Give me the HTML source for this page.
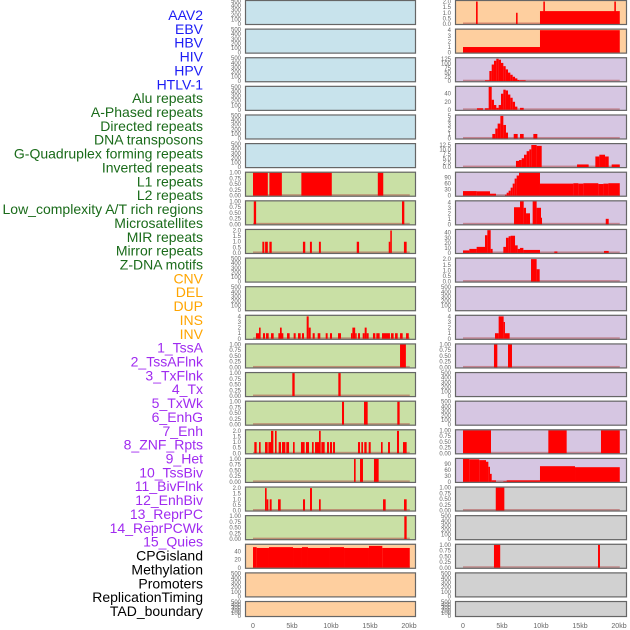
<!DOCTYPE html>
<html><head><meta charset="utf-8"><style>
html,body{margin:0;padding:0;background:#fff;width:630px;height:630px;overflow:hidden}
svg{display:block}
.lab{font-family:"Liberation Sans",sans-serif;font-size:14px;text-anchor:end}
.tk{font-family:"Liberation Sans",sans-serif;font-size:6px;fill:#666;text-anchor:end}
.xt{font-family:"Liberation Sans",sans-serif;font-size:7px;fill:#666;text-anchor:middle}
</style></head><body>
<svg id="chart" width="630" height="630" viewBox="0 0 630 630" xmlns="http://www.w3.org/2000/svg"></svg>
<script>
// ---- Labels ----
const labelsBlue=["AAV2","EBV","HBV","HIV","HPV","HTLV-1"];
const labelsGreen=["Alu repeats","A-Phased repeats","Directed repeats","DNA transposons","G-Quadruplex forming repeats","Inverted repeats","L1 repeats","L2 repeats","Low_complexity A/T rich regions","Microsatellites","MIR repeats","Mirror repeats","Z-DNA motifs"];
const labelsOrange=["CNV","DEL","DUP","INS","INV"];
const labelsPurple=["1_TssA","2_TssAFlnk","3_TxFlnk","4_Tx","5_TxWk","6_EnhG","7_Enh","8_ZNF_Rpts","9_Het","10_TssBiv","11_BivFlnk","12_EnhBiv","13_ReprPC","14_ReprPCWk","15_Quies"];
const labelsBlack=["CPGisland","Methylation","Promoters","ReplicationTiming","TAD_boundary"];
// ---- Ticks ----
const T500=["0","100","200","300","400","500"];
const T1=["0.00","0.25","0.50","0.75","1.00"];
const T2=["0.0","0.5","1.0","1.5","2.0"];
const T4=["0","1","2","3","4"];
const T5=["0","1","2","3","4","5"];
const T125=["0","25","50","75","100","125"];
const T40=["0","20","40"];
const T40b=["0","10","20","30","40"];
const T12=["0.0","2.5","5.0","7.5","10.0","12.5"];
const T90=["0","30","60","90"];
const xTicks=[0,5,10,15,20];
const xTickLabels=["0","5kb","10kb","15kb","20kb"];
// ---- Left bars [startKb,endKb,value] ----
const L6=[[0,1.9,1],[2.1,3.7,1],[6.2,10.1,1],[16.0,16.7,1]];
const L7=[[0.1,0.4,1],[19.1,19.4,1]];
const L8=[[1.2,1.45,1],[1.55,1.9,1],[2.1,2.4,1],[6.4,6.7,1],[7.3,7.55,1],[8.45,8.7,1],[13.3,13.6,1],[17.4,17.6,1],[17.6,17.8,2],[19.35,19.7,1]];
const L11=[[0.38,0.9,1],[0.77,0.98,2],[1.28,1.54,1],[1.67,2.01,1],[2.31,2.65,1],[3.25,3.89,1],[3.46,3.68,2],[4.36,4.7,1],[5.21,5.47,1],[5.77,6.11,1],[6.28,6.54,1],[6.88,7.14,4],[7.14,7.4,2],[7.65,7.91,1],[8.29,8.63,1],[9.32,9.57,1],[9.87,10.13,1],[10.9,11.28,1],[12.56,12.74,1],[12.74,13.1,2],[13.1,13.29,1],[13.46,13.72,1],[14.06,14.32,1],[14.32,14.57,2],[14.57,14.83,1],[15.38,15.68,1],[15.81,16.24,1],[16.54,17.56,1],[17.69,18.03,1],[18.21,18.55,1],[18.85,19.19,1],[19.62,19.97,1]];
const L12=[[18.85,19.6,1]];
const L13=[[5.04,5.34,1],[10.94,11.24,1]];
const L14=[[11.41,11.67,1],[14.23,14.7,1],[18.5,18.8,1]];
const L15=[[0.17,0.47,1],[0.77,0.98,1],[1.54,1.88,1],[1.97,2.35,1],[2.31,2.61,2],[2.82,3.03,2],[3.29,3.59,1],[3.72,4.15,1],[4.27,4.62,1],[5.13,5.34,1],[6.15,6.62,1],[6.79,7.18,1],[7.56,7.78,1],[7.95,8.59,1],[8.46,8.68,2],[8.76,9.19,1],[9.49,9.74,1],[9.87,10.13,1],[10.26,10.51,1],[13.46,13.72,1],[13.89,14.1,1],[14.27,14.57,1],[14.83,15.09,1],[16.41,16.62,1],[17.31,17.56,1],[18.46,18.72,2],[19.23,19.7,1]];
const L16=[[12.95,13.16,1],[13.72,14.1,1],[15.51,16.11,1]];
const L17=[[1.54,1.75,2],[1.75,1.97,1],[2.14,2.39,1],[3.21,3.55,1],[6.41,6.67,1],[7.31,7.56,2],[8.46,8.68,1],[16.67,17.01,1],[19.36,19.7,1]];
const L18=[[19.4,19.7,1]];
const L19=[[0,0.47,50],[0.47,2.05,48],[2.05,5.13,50],[5.13,6.28,48],[6.28,7.05,50],[7.05,9.87,48],[9.87,11.67,50],[11.67,14.87,48],[14.87,16.58,53],[16.58,20.1,48]];
// ---- Right bars ----
const R0=[[1.67,1.88,2],[6.8,7.0,1],[9.87,20.1,1.15],[10.3,10.5,2],[19.4,19.6,2]];
const R1=[[0,9.87,1],[9.87,20.1,4]];
const R2=[[2.82,3.38,5],[3.38,3.68,57],[3.68,3.97,93],[3.97,4.27,114],[4.27,4.57,125],[4.57,4.87,120],[4.87,5.17,102],[5.17,5.47,84],[5.47,5.77,66],[5.77,6.07,48],[6.07,6.37,36],[6.37,6.67,25],[6.67,6.97,16],[6.97,7.2,7],[7.2,8.03,5]];
const R3=[[1.79,2.56,4],[2.82,3.29,4],[3.29,3.68,58],[3.68,3.97,25],[3.97,4.27,12],[4.27,4.57,5],[4.57,4.87,12],[4.87,5.17,40],[5.17,5.47,50],[5.47,5.77,48],[5.77,6.07,38],[6.07,6.37,30],[6.37,6.67,20],[6.67,6.97,8],[7.31,7.78,5]];
const R4=[[3.76,4.14,1],[4.14,4.44,2.2],[4.44,4.79,3.3],[4.79,5.17,5],[5.17,5.51,3],[5.51,5.77,1.3],[6.5,7.01,1],[7.31,7.78,1],[9.02,9.53,1]];
const R5=[[6.79,7.18,3.5],[7.18,7.52,4],[7.52,7.82,5],[7.82,8.16,7],[8.16,8.5,9],[8.5,8.76,10],[8.76,9.44,12.5],[9.44,10.09,12],[14.62,16.11,1.5],[16.97,17.48,6],[17.48,18.21,7],[18.21,18.68,6],[19.06,20.1,1.5]];
const R6=[[0,1.75,23],[1.75,3.46,22],[3.46,4.23,10],[5.38,5.6,5],[5.6,5.85,15],[5.85,6.11,25],[6.11,6.37,40],[6.37,6.62,60],[6.62,6.88,85],[6.88,7.18,100],[7.18,9.87,114],[9.87,14.15,60],[14.15,14.79,62],[14.79,15.43,60],[15.43,17.35,62],[17.35,18.0,58],[18.0,18.64,60],[18.64,20.1,62]];
const R7=[[6.54,7.31,3.1],[7.31,7.78,4.2],[7.78,8.08,3],[8.08,8.59,2],[8.93,9.44,4.2],[9.44,10.0,3],[10.0,10.13,1.2],[18.3,18.68,1]];
const R8=[[0,0.81,5],[0.81,1.75,8],[1.75,2.82,12],[2.82,3.12,35],[3.12,3.55,45],[3.55,3.8,8],[5.17,5.51,12],[5.51,5.85,30],[5.85,6.11,33],[6.11,6.67,34],[6.67,7.01,15],[7.01,7.31,8],[7.31,7.74,10],[7.74,9.87,6],[11.71,12.1,3],[18.08,18.68,4]];
const R9=[[8.72,9.44,2],[9.44,9.83,1.1]];
const R11=[[4.1,4.57,1],[4.57,5.21,4],[5.21,5.38,3],[5.38,5.98,1]];
const R12=[[3.97,4.4,1],[5.77,6.28,1]];
const R15=[[0,3.59,1],[10.94,13.29,1],[17.69,20.1,1]];
const R16=[[0,0.81,114],[0.81,2.09,112],[2.09,2.95,108],[2.95,3.25,100],[3.25,3.46,75],[3.46,3.68,40],[3.68,4.23,8],[5.17,5.6,3],[5.6,9.87,8],[9.87,14.36,78],[14.36,20.1,73]];
const R17=[[4.2,5.3,1]];
const R19=[[3.97,4.77,1],[17.31,17.56,1]];
// ---- Panel y-domain maxima ----
const leftYmax=[500,500,500,500,500,500,1,1,2.05,500,500,4.1,1,1,1,2.05,1,2.05,1,55.7,500,500];
const rightYmax=[2.05,4.1,128,57,5.1,13,114,4.17,45.4,2.05,500,4.1,1,500,500,1,114,1,500,1,500,500];

const BLUE="#c8e3ec",GREEN="#c9e0a5",ORANGE="#fecf9f",PURPLE="#d6c6e2",GRAY="#d1d1d1";
const leftBg=[BLUE,BLUE,BLUE,BLUE,BLUE,BLUE,GREEN,GREEN,GREEN,GREEN,GREEN,GREEN,GREEN,GREEN,GREEN,GREEN,GREEN,GREEN,GREEN,ORANGE,ORANGE,ORANGE];
const rightBg=[ORANGE,ORANGE,PURPLE,PURPLE,PURPLE,PURPLE,PURPLE,PURPLE,PURPLE,PURPLE,PURPLE,PURPLE,PURPLE,PURPLE,PURPLE,PURPLE,PURPLE,GRAY,GRAY,GRAY,GRAY,GRAY];
const leftTicks=[T500,T500,T500,T500,T500,T500,T1,T1,T2,T500,T500,T4,T1,T1,T1,T2,T1,T2,T1,T40,T500,T500];
const rightTicks=[T2,T4,T125,T40,T5,T12,T90,T4,T40b,T2,T500,T4,T1,T500,T500,T1,T90,T1,T500,T1,T500,T500];
const leftBars=[[],[],[],[],[],[],L6,L7,L8,[],[],L11,L12,L13,L14,L15,L16,L17,L18,L19,[],[]];
const rightBars=[R0,R1,R2,R3,R4,R5,R6,R7,R8,R9,[],R11,R12,[],[],R15,R16,R17,[],R19,[],[]];

const NS="http://www.w3.org/2000/svg";
const svg=document.getElementById('chart');
function mk(tag,attrs,parent){const e=document.createElementNS(NS,tag);for(const k in attrs)e.setAttribute(k,attrs[k]);(parent||svg).appendChild(e);return e;}

// Labels
const groups=[[labelsBlue,"#1c1cf5"],[labelsGreen,"#1a6b1a"],[labelsOrange,"#ffa500"],[labelsPurple,"#a02bf0"],[labelsBlack,"#000"]];
let li=0;
groups.forEach(([arr,col])=>{arr.forEach(t=>{
  const e=mk('text',{x:203,y:15+li*13.86+5,'class':'lab',fill:col});
  e.textContent=t;
  
  
  li++;});});

const KB=7.8;
function xScale(side,kb){return (side===0?253:463)+kb*KB;}
const PX=[245,455],PW=[171,172];

for(let side=0;side<2;side++){
  const ymaxs=side?rightYmax:leftYmax, bgs=side?rightBg:leftBg, tks=side?rightTicks:leftTicks, bars=side?rightBars:leftBars;
  for(let i=0;i<22;i++){
    const top=i*28.62, h=(i===21)?16:25;
    const g=mk('g',{});
    
    
    mk('rect',{x:PX[side],y:top,width:PW[side],height:h,fill:bgs[i]},g);
    const y0=top+h-1, ih=h-2;
    const ys=v=>y0-v/ymaxs[i]*ih;
    if(bars[i].length){
      mk('rect',{x:xScale(side,0),y:y0-1.5,width:20.1*KB,height:1.5,fill:'#b04040','fill-opacity':0.5},g);
    }
    bars[i].forEach(b=>{
      const r=mk('rect',{x:xScale(side,b[0]),y:ys(b[2]),width:Math.max(0.8,(b[1]-b[0])*KB),height:y0-ys(b[2]),fill:'#ff0000'},g);
      
      
    });
    mk('rect',{x:PX[side]+0.5,y:top+0.5,width:PW[side]-1,height:h-1,fill:'none',stroke:'#666','stroke-width':1.2},g);
    tks[i].forEach(t=>{
      const v=parseFloat(t);
      const e=mk('text',{x:PX[side]-4,y:ys(v)+2,'class':'tk'},g);
      e.textContent=t;
      
      
    });
  }
  xTicks.forEach((k,j)=>{
    const e=mk('text',{x:xScale(side,k),y:628,'class':'xt'});
    e.textContent=xTickLabels[j];
    
    
  });
}
</script>
</body></html>
